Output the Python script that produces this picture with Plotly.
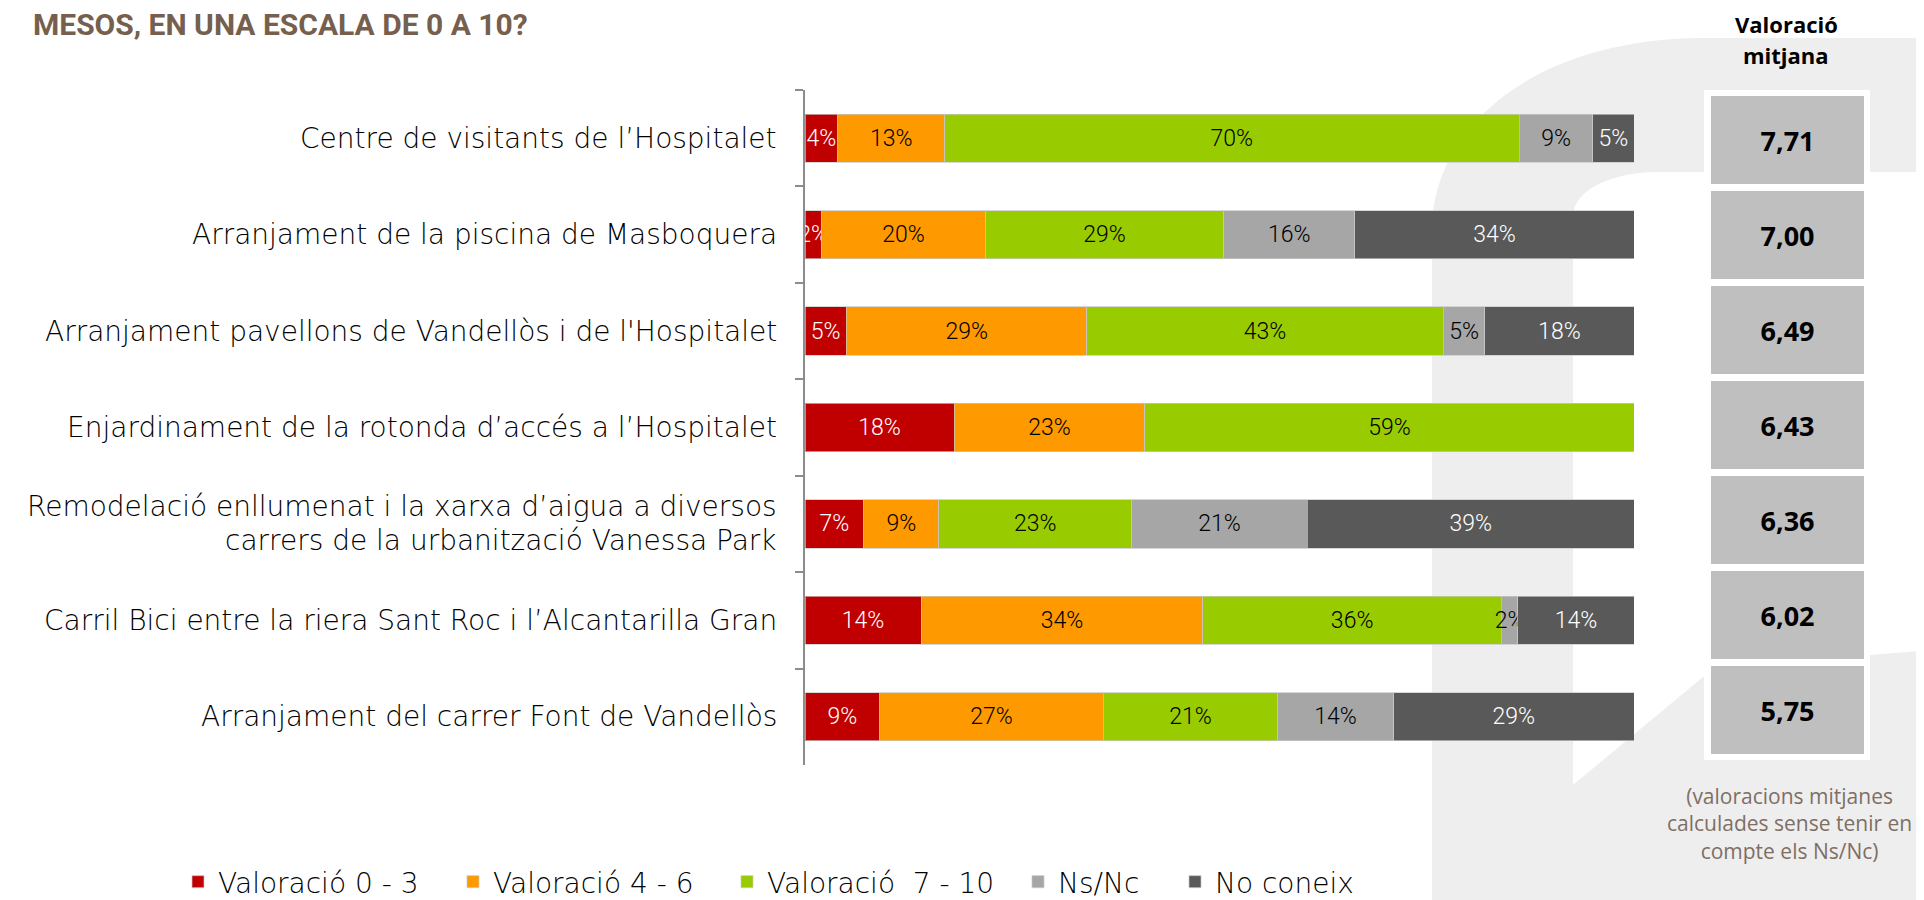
import plotly.graph_objects as go

# ---------------- data ----------------
categories = [
    "Centre de visitants de l’Hospitalet",
    "Arranjament de la piscina de Masboquera",
    "Arranjament pavellons de Vandellòs i de l'Hospitalet",
    "Enjardinament de la rotonda d’accés a l’Hospitalet",
    "Remodelació enllumenat i la xarxa d’aigua a diversos<br>carrers de la urbanització Vanessa Park",
    "Carril Bici entre la riera Sant Roc i l’Alcantarilla Gran",
    "Arranjament del carrer Font de Vandellòs",
]
series_names = ["Valoració 0 - 3", "Valoració 4 - 6", "Valoració\u00a0 7 - 10", "Ns/Nc", "No coneix"]
val_0_3 = [4, 2, 5, 18, 7, 14, 9]
val_4_6 = [13, 20, 29, 23, 9, 34, 27]
val_7_10 = [70, 29, 43, 59, 23, 36, 21]
val_nsnc = [9, 16, 5, 0, 21, 2, 14]
val_noconeix = [5, 34, 18, 0, 39, 14, 29]
mean_scores = [7.71, 7.00, 6.49, 6.43, 6.36, 6.02, 5.75]

title_text = "MESOS, EN UNA ESCALA DE 0 A 10?"
header_lines = ["Valoració", "mitjana"]
footnote_text = "(valoracions mitjanes<br>calculades sense tenir en<br>compte els Ns/Nc)"

# ---------------- styles ----------------
colors = ["#C00000", "#FF9900", "#99CC00", "#A6A6A6", "#595959"]
text_colors = ["white", "black", "black", "black", "white"]
series_values = [val_0_3, val_4_6, val_7_10, val_nsnc, val_noconeix]

OFF = 8            # default page body margin
W, H = 1916, 920   # figure size (page is 1924x900 window)

# plot area in page pixels
PL_page, PT_page, PR_page, PB_page = 805, 90, 1864, 765
ML = PL_page - OFF
MT = PT_page - OFF
PR = PR_page - OFF
PB = PB_page - OFF
PW = PR - ML
PH = PB - MT


def px_x(X):
    """page x pixel -> paper coordinate"""
    return (X - OFF - ML) / PW


def px_y(Y):
    """page y pixel -> paper coordinate"""
    return (PB - (Y - OFF)) / PH


label_font = dict(family="DejaVu Sans", size=28, color="black", weight=300)

fig = go.Figure()

legend_keys = ["legend", "legend2", "legend3", "legend4", "legend5"]
for i, (name, vals) in enumerate(zip(series_names, series_values)):
    fig.add_trace(go.Bar(
        y=categories,
        x=vals,
        name=name,
        orientation="h",
        width=0.5,
        marker=dict(color=colors[i], line=dict(color="rgba(200,200,200,0.7)", width=1)),
        text=[f"{v}%" if v > 0 else "" for v in vals],
        texttemplate="%{text}",
        textposition="inside",
        insidetextanchor="middle",
        textangle=0,
        constraintext="none",
        cliponaxis=False,
        textfont=dict(family="Roboto", size=23, color=text_colors[i], weight=300),
        legend=legend_keys[i],
        hoverinfo="skip",
        xaxis="x",
        yaxis="y",
    ))

# mean score boxes
fig.add_trace(go.Bar(
    y=categories,
    x=[1] * len(mean_scores),
    orientation="h",
    width=0.926,
    marker=dict(color="#BFBFBF", line=dict(width=0)),
    text=[f"{m:.2f}".replace(".", ",") for m in mean_scores],
    texttemplate="%{text}",
    textposition="inside",
    insidetextanchor="middle",
    textangle=0,
    constraintext="none",
    textfont=dict(family="Open Sans", size=27, color="black", weight="bold"),
    showlegend=False,
    hoverinfo="skip",
    xaxis="x2",
    yaxis="y2",
))


# ---------------- shapes (background watermark + white panel) ----------------
def P(X, Y):
    return f"{px_x(X):.5f},{px_y(Y):.5f}"


watermark_path = (
    f"M{P(1432, 930)} L{P(1432, 230)} "
    f"C{P(1432, 130)} {P(1530, 40)} {P(1700, 38)} "
    f"L{P(1930, 38)} L{P(1930, 172)} L{P(1660, 172)} "
    f"C{P(1610, 172)} {P(1575, 190)} {P(1573, 215)} "
    f"L{P(1573, 785)} L{P(1703, 677)} L{P(1870, 655)} L{P(1930, 650)} "
    f"L{P(1930, 930)} Z"
)
shapes = [
    dict(type="path", xref="paper", yref="paper", path=watermark_path,
         fillcolor="#EEEEEE", line=dict(width=0), layer="below"),
    dict(type="rect", xref="paper", yref="paper",
         x0=px_x(1704), x1=px_x(1870), y0=px_y(760), y1=px_y(90),
         fillcolor="white", line=dict(width=0), layer="below"),
]

# ---------------- annotations ----------------
annotations = []
line_h = 34
for cat in categories:
    lines = cat.split("<br>")
    n = len(lines)
    for j, ln in enumerate(lines):
        annotations.append(dict(
            xref="paper", yref="y", x=0, y=cat, xanchor="right", yanchor="middle",
            xshift=-26, yshift=((n - 1) / 2 - j) * line_h,
            text=ln, showarrow=False, align="center", font=label_font,
        ))

for j, ln in enumerate(header_lines):
    annotations.append(dict(
        xref="paper", yref="paper", x=px_x(1786), y=px_y(24 + 31 * j),
        xanchor="center", yanchor="middle",
        text=ln, showarrow=False, align="center",
        font=dict(family="Open Sans", size=22, color="black", weight="bold"),
    ))
annotations.append(dict(
    xref="paper", yref="paper", x=px_x(1789), y=px_y(823), xanchor="center", yanchor="middle",
    text=footnote_text, showarrow=False, align="center",
    font=dict(family="Open Sans", size=21, color="#7F6E64"),
))

# ---------------- legends ----------------
legend_centers = [203, 478, 752, 1043, 1200]   # page x of legend squares
legend_font = dict(family="DejaVu Sans", size=28, color="black", weight=300)
legend_layouts = {}
for key, cx in zip(legend_keys, legend_centers):
    legend_layouts[key] = dict(
        orientation="h", x=px_x(cx - 25), xanchor="left",
        y=px_y(882), yanchor="middle", bgcolor="rgba(0,0,0,0)",
        font=legend_font, itemclick=False, itemdoubleclick=False,
    )

fig.update_layout(
    width=W, height=H,
    margin=dict(l=ML, r=W - PR, t=MT, b=H - PB, pad=0),
    paper_bgcolor="white",
    plot_bgcolor="rgba(0,0,0,0)",
    barmode="stack",
    barnorm="percent",
    showlegend=True,
    title=dict(
        text=title_text, x=(33 - OFF) / W, xanchor="left", xref="container",
        y=1 - (24 - OFF) / H, yanchor="middle", yref="container",
        font=dict(family="Roboto", size=30, color="#765F4E", weight="bold"),
    ),
    xaxis=dict(domain=[0, px_x(1634)], range=[0, 100], visible=False, fixedrange=True),
    yaxis=dict(
        domain=[0, 1], type="category", categoryorder="array", categoryarray=categories,
        autorange="reversed", showticklabels=False, showgrid=False, zeroline=False,
        showline=True, linecolor="#8C8C8C", linewidth=2,
        ticks="outside", tickson="boundaries", ticklen=8, tickcolor="#8C8C8C", tickwidth=2,
        anchor="x",
    ),
    xaxis2=dict(domain=[px_x(1711), 1], range=[0, 100], visible=False, anchor="y2"),
    yaxis2=dict(
        domain=[px_y(757.5), px_y(92.5)], type="category", categoryorder="array",
        categoryarray=categories, autorange="reversed", visible=False, anchor="x2",
    ),
    shapes=shapes,
    annotations=annotations,
    **legend_layouts,
)

fig.write_html("out.html")
